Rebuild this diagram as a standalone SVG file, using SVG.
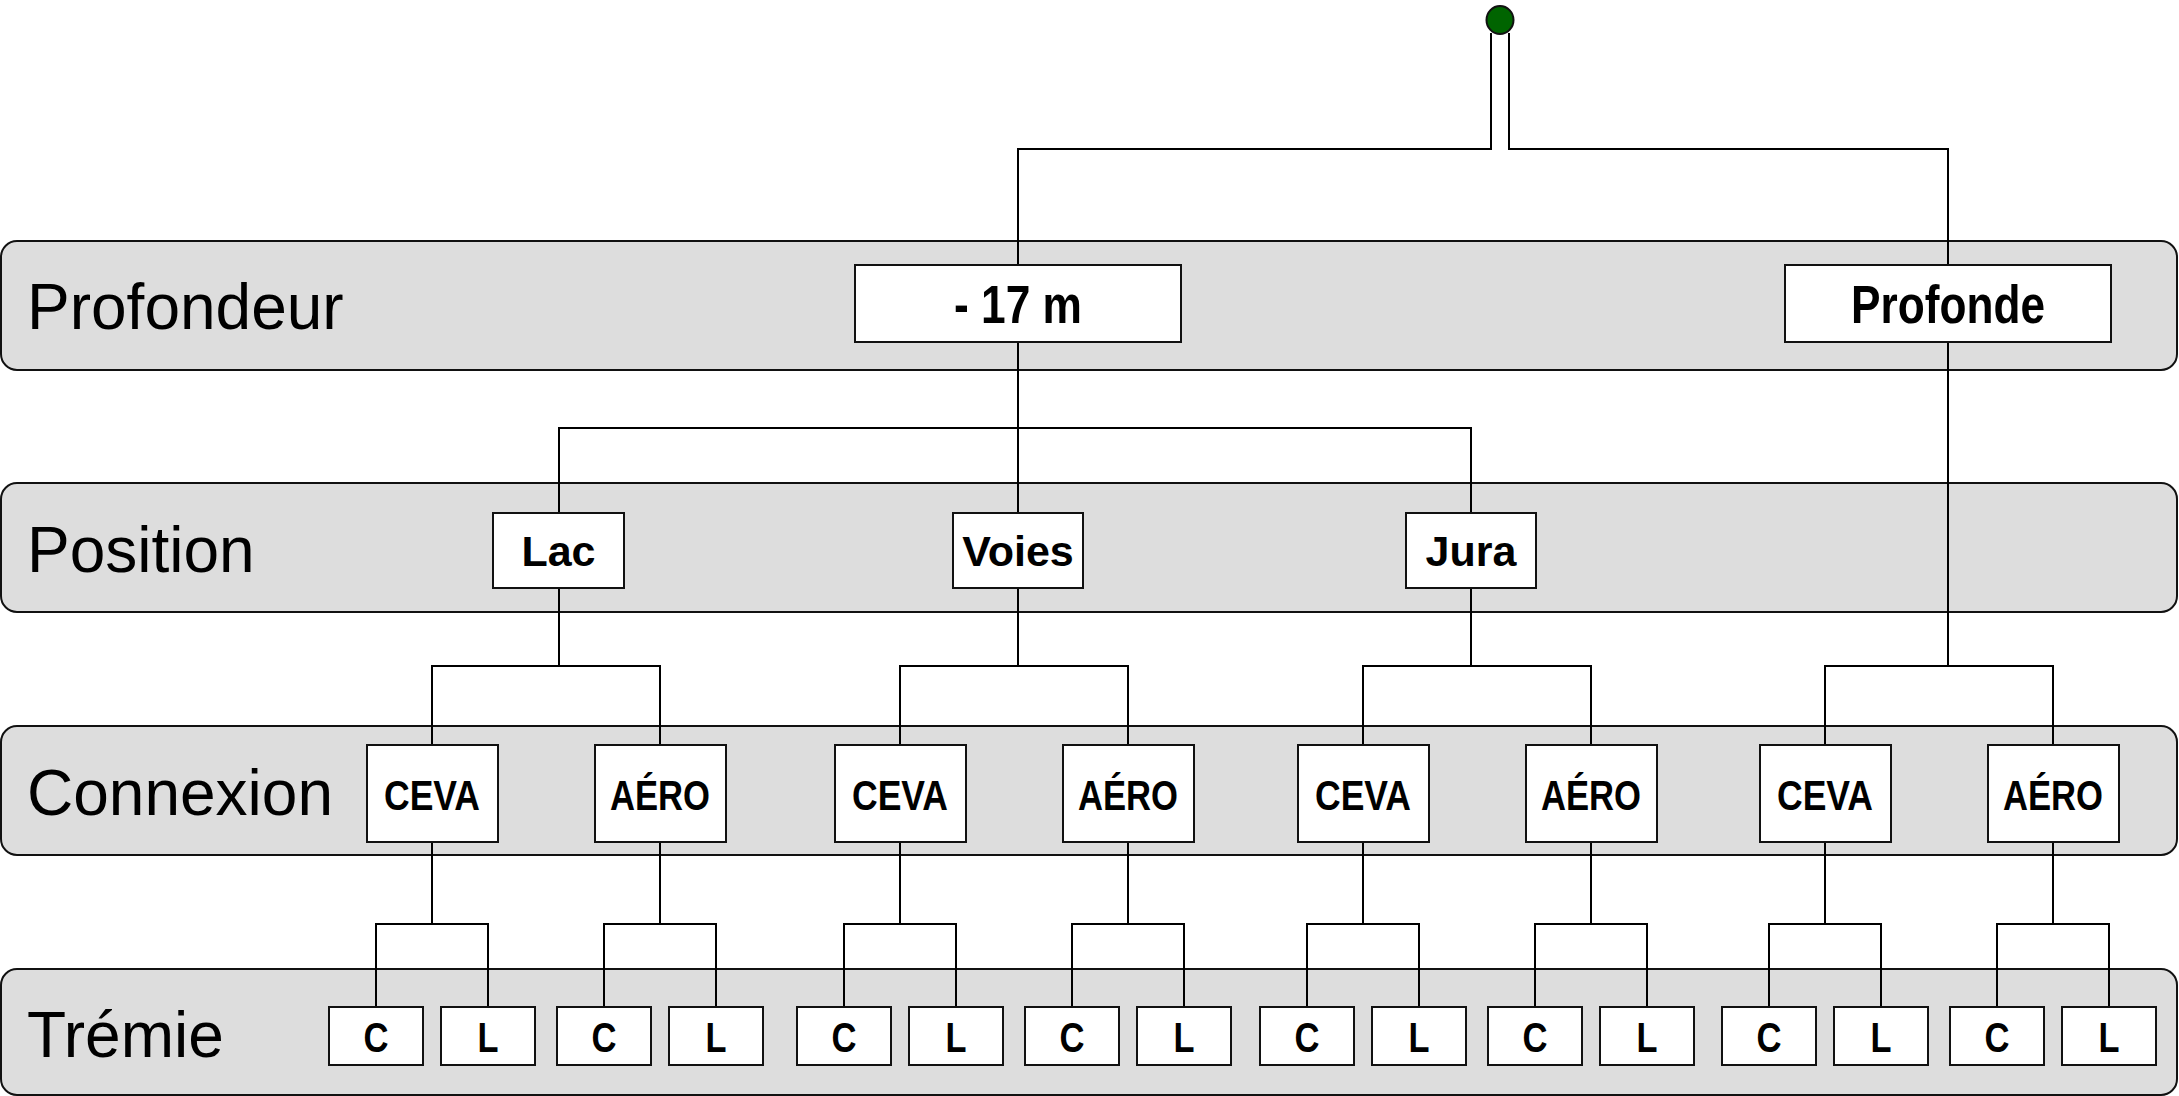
<svg xmlns="http://www.w3.org/2000/svg" width="2179" height="1096" viewBox="0 0 2179 1096">
<style>
.band{fill:#dddddd;stroke:#111;stroke-width:2}
.blabel{font-family:"Liberation Sans",Arial,sans-serif;font-size:64px;fill:#000}
.box{fill:#fff;stroke:#111;stroke-width:2}
.nb{font-family:"Liberation Sans Narrow","Liberation Sans",Arial,sans-serif;font-weight:bold;fill:#000;text-anchor:middle}
.rb{font-family:"Liberation Sans",Arial,sans-serif;font-weight:bold;font-size:43px;fill:#000;text-anchor:middle}
.big{font-size:54px}
.sm{font-size:42px}
.conn{fill:none;stroke:#000;stroke-width:2}
</style>
<g id="bands">
<g id="band-profondeur"><rect class="band" x="1" y="241" width="2176" height="129" rx="16"/><text class="blabel" x="27" y="329">Profondeur</text></g>
<g id="band-position"><rect class="band" x="1" y="483" width="2176" height="129" rx="16"/><text class="blabel" x="27" y="572">Position</text></g>
<g id="band-connexion"><rect class="band" x="1" y="726" width="2176" height="129" rx="16"/><text class="blabel" x="27" y="815">Connexion</text></g>
<g id="band-tremie"><rect class="band" x="1" y="969" width="2176" height="126" rx="16"/><text class="blabel" x="27" y="1057">Trémie</text></g>
</g>
<g id="connectors">
<path class="conn" d="M1491 33V149H1018V265"/>
<path class="conn" d="M1509 33V149H1948V265"/>
<path class="conn" d="M1018 342V428M559 513V428H1471V513M1018 428V513"/>
<path class="conn" d="M559 588V666M432 745V666H660V745"/>
<path class="conn" d="M1018 588V666M900 745V666H1128V745"/>
<path class="conn" d="M1471 588V666M1363 745V666H1591V745"/>
<path class="conn" d="M1948 342V666M1825 745V666H2053V745"/>
<path class="conn" d="M432 842V924M376 1007V924H488V1007"/>
<path class="conn" d="M660 842V924M604 1007V924H716V1007"/>
<path class="conn" d="M900 842V924M844 1007V924H956V1007"/>
<path class="conn" d="M1128 842V924M1072 1007V924H1184V1007"/>
<path class="conn" d="M1363 842V924M1307 1007V924H1419V1007"/>
<path class="conn" d="M1591 842V924M1535 1007V924H1647V1007"/>
<path class="conn" d="M1825 842V924M1769 1007V924H1881V1007"/>
<path class="conn" d="M2053 842V924M1997 1007V924H2109V1007"/>
</g>
<g id="root"><ellipse cx="1500" cy="20" rx="13.5" ry="14" fill="#006400" stroke="#111" stroke-width="2"/></g>
<g id="n-17m"><rect class="box" x="855" y="265" width="326" height="77"/><text class="nb big" x="1018" y="323" textLength="128" lengthAdjust="spacingAndGlyphs">- 17 m</text></g>
<g id="n-profonde"><rect class="box" x="1785" y="265" width="326" height="77"/><text class="nb big" x="1948" y="323" textLength="194" lengthAdjust="spacingAndGlyphs">Profonde</text></g>
<g id="n-lac"><rect class="box" x="493" y="513" width="131" height="75"/><text class="rb" x="558.5" y="566">Lac</text></g>
<g id="n-voies"><rect class="box" x="953" y="513" width="130" height="75"/><text class="rb" x="1018" y="566">Voies</text></g>
<g id="n-jura"><rect class="box" x="1406" y="513" width="130" height="75"/><text class="rb" x="1471" y="566">Jura</text></g>
<g id="n-ceva1"><rect class="box" x="367" y="745" width="131" height="97"/><text class="nb sm" x="432" y="810" textLength="96" lengthAdjust="spacingAndGlyphs">CEVA</text></g>
<g id="n-aero1"><rect class="box" x="595" y="745" width="131" height="97"/><text class="nb sm" x="660" y="810" textLength="100" lengthAdjust="spacingAndGlyphs">AÉRO</text></g>
<g id="n-ceva2"><rect class="box" x="835" y="745" width="131" height="97"/><text class="nb sm" x="900" y="810" textLength="96" lengthAdjust="spacingAndGlyphs">CEVA</text></g>
<g id="n-aero2"><rect class="box" x="1063" y="745" width="131" height="97"/><text class="nb sm" x="1128" y="810" textLength="100" lengthAdjust="spacingAndGlyphs">AÉRO</text></g>
<g id="n-ceva3"><rect class="box" x="1298" y="745" width="131" height="97"/><text class="nb sm" x="1363" y="810" textLength="96" lengthAdjust="spacingAndGlyphs">CEVA</text></g>
<g id="n-aero3"><rect class="box" x="1526" y="745" width="131" height="97"/><text class="nb sm" x="1591" y="810" textLength="100" lengthAdjust="spacingAndGlyphs">AÉRO</text></g>
<g id="n-ceva4"><rect class="box" x="1760" y="745" width="131" height="97"/><text class="nb sm" x="1825" y="810" textLength="96" lengthAdjust="spacingAndGlyphs">CEVA</text></g>
<g id="n-aero4"><rect class="box" x="1988" y="745" width="131" height="97"/><text class="nb sm" x="2053" y="810" textLength="100" lengthAdjust="spacingAndGlyphs">AÉRO</text></g>
<g id="n-c1"><rect class="box" x="329" y="1007" width="94" height="58"/><text class="nb sm" x="376" y="1052" textLength="25" lengthAdjust="spacingAndGlyphs">C</text></g>
<g id="n-l1"><rect class="box" x="441" y="1007" width="94" height="58"/><text class="nb sm" x="488" y="1052" textLength="21" lengthAdjust="spacingAndGlyphs">L</text></g>
<g id="n-c2"><rect class="box" x="557" y="1007" width="94" height="58"/><text class="nb sm" x="604" y="1052" textLength="25" lengthAdjust="spacingAndGlyphs">C</text></g>
<g id="n-l2"><rect class="box" x="669" y="1007" width="94" height="58"/><text class="nb sm" x="716" y="1052" textLength="21" lengthAdjust="spacingAndGlyphs">L</text></g>
<g id="n-c3"><rect class="box" x="797" y="1007" width="94" height="58"/><text class="nb sm" x="844" y="1052" textLength="25" lengthAdjust="spacingAndGlyphs">C</text></g>
<g id="n-l3"><rect class="box" x="909" y="1007" width="94" height="58"/><text class="nb sm" x="956" y="1052" textLength="21" lengthAdjust="spacingAndGlyphs">L</text></g>
<g id="n-c4"><rect class="box" x="1025" y="1007" width="94" height="58"/><text class="nb sm" x="1072" y="1052" textLength="25" lengthAdjust="spacingAndGlyphs">C</text></g>
<g id="n-l4"><rect class="box" x="1137" y="1007" width="94" height="58"/><text class="nb sm" x="1184" y="1052" textLength="21" lengthAdjust="spacingAndGlyphs">L</text></g>
<g id="n-c5"><rect class="box" x="1260" y="1007" width="94" height="58"/><text class="nb sm" x="1307" y="1052" textLength="25" lengthAdjust="spacingAndGlyphs">C</text></g>
<g id="n-l5"><rect class="box" x="1372" y="1007" width="94" height="58"/><text class="nb sm" x="1419" y="1052" textLength="21" lengthAdjust="spacingAndGlyphs">L</text></g>
<g id="n-c6"><rect class="box" x="1488" y="1007" width="94" height="58"/><text class="nb sm" x="1535" y="1052" textLength="25" lengthAdjust="spacingAndGlyphs">C</text></g>
<g id="n-l6"><rect class="box" x="1600" y="1007" width="94" height="58"/><text class="nb sm" x="1647" y="1052" textLength="21" lengthAdjust="spacingAndGlyphs">L</text></g>
<g id="n-c7"><rect class="box" x="1722" y="1007" width="94" height="58"/><text class="nb sm" x="1769" y="1052" textLength="25" lengthAdjust="spacingAndGlyphs">C</text></g>
<g id="n-l7"><rect class="box" x="1834" y="1007" width="94" height="58"/><text class="nb sm" x="1881" y="1052" textLength="21" lengthAdjust="spacingAndGlyphs">L</text></g>
<g id="n-c8"><rect class="box" x="1950" y="1007" width="94" height="58"/><text class="nb sm" x="1997" y="1052" textLength="25" lengthAdjust="spacingAndGlyphs">C</text></g>
<g id="n-l8"><rect class="box" x="2062" y="1007" width="94" height="58"/><text class="nb sm" x="2109" y="1052" textLength="21" lengthAdjust="spacingAndGlyphs">L</text></g>
</svg>
